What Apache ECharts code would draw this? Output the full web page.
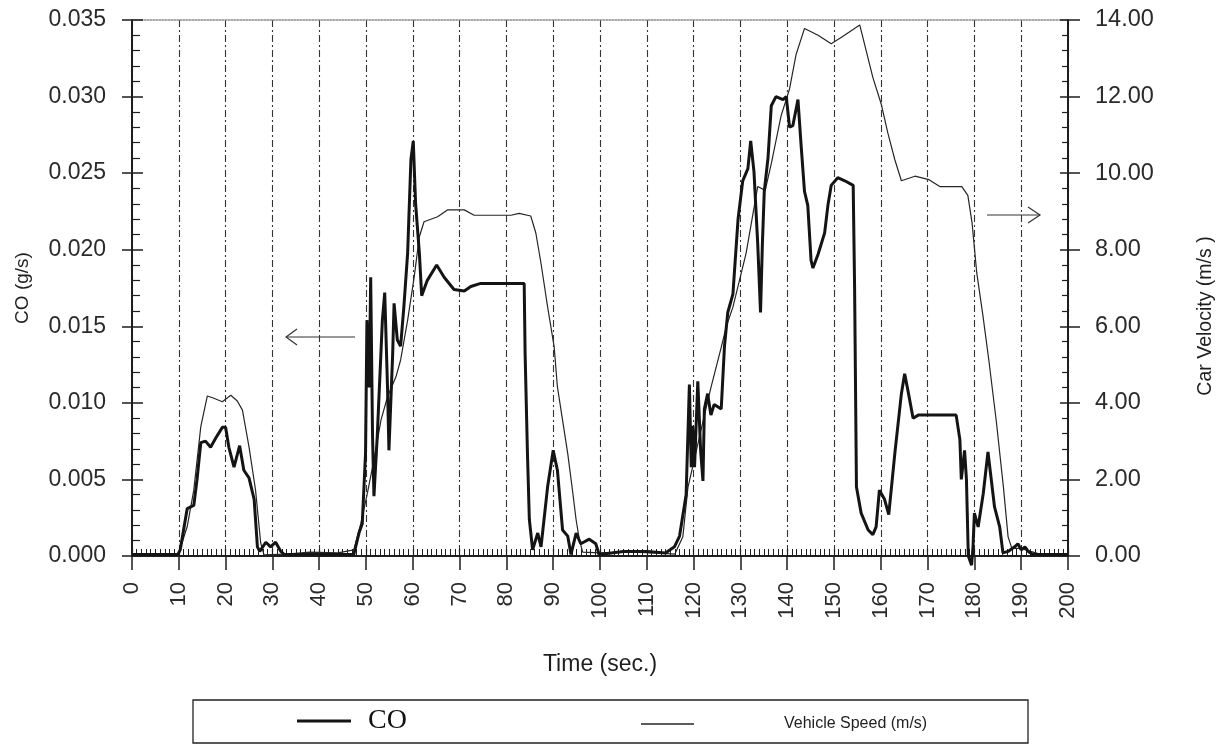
<!DOCTYPE html>
<html>
<head>
  <meta charset="utf-8">
  <title>CO and vehicle speed</title>
  <script src="https://cdn.jsdelivr.net/npm/echarts@6/dist/echarts.min.js"></script>
  <style>
    html, body { margin: 0; padding: 0; background: #fff; }
    #main { width: 1226px; height: 747px; }
  </style>
</head>
<body>
  <div id="main"></div>
  <script>
  // CO emission (g/s)
  var coTime = [0, 9.8, 10.3, 11.8, 13.2, 13.9, 14.7, 15.7, 16.8, 17.9, 19.3, 20, 20.7, 21.8, 23, 23.9, 25, 26.1, 26.8, 27.3,
    28.6, 29.6, 30.7, 31.8, 32.5, 40, 47.4, 48.5, 49.2, 49.9, 50.2, 50.7, 51, 51.4, 51.7, 52.4, 53.5, 54, 54.6, 54.9,
    55.7, 56, 56.7, 57.4, 58.1, 58.9, 59.6, 60.1, 60.6, 61.4, 61.9, 63.1, 65.1, 66.7, 68.8, 71, 72.4, 74.5, 83.8, 84,
    84.5, 84.9, 85.6, 86.7, 87.4, 88.8, 90, 90.9, 92, 93.1, 93.8, 94.9, 95.9, 97.7, 99.1, 99.8, 105, 110, 114, 115.9,
    117, 118.4, 118.8, 119.1, 119.5, 119.8, 120.2, 120.9, 121.5, 122, 122.3, 123, 123.7, 124.4, 125.9, 126.6, 127.3, 128.4, 129.5, 130.5,
    131.6, 132.2, 132.9, 133.7, 134.3, 134.7, 135.1, 135.9, 136.6, 137.6, 139.1, 139.8, 140.5, 141.2, 142.3, 143, 143.7, 144.4, 145.1, 145.5,
    146.6, 148, 148.7, 149.4, 150.8, 152.3, 154.1, 154.4, 154.8, 155.8, 157.3, 158.3, 159, 159.7, 160.8, 161.7, 163, 164.4, 165.1, 165.8,
    166.9, 168, 176.1, 176.9, 177.2, 177.9, 178.3, 178.7, 179.4, 179.7, 180, 180.8, 181.9, 182.9, 183.6, 184.3, 185.4, 186.1, 187.2, 188.6,
    189.3, 190, 190.8, 191.5, 192.5, 193.6, 200];
  var coValue = [0.0001, 0.0001, 0.0004, 0.0031, 0.0033, 0.0050, 0.0074, 0.0075, 0.0071, 0.0077, 0.0084, 0.0084, 0.0071, 0.0058, 0.0072, 0.0056, 0.0051, 0.0037, 0.0006, 0.0003,
    0.0009, 0.0006, 0.0009, 0.0003, 0.0001, 0.0001, 0.0001, 0.0015, 0.0021, 0.0067, 0.0154, 0.0110, 0.0182, 0.0078, 0.0039, 0.0078, 0.0154, 0.0172, 0.0110, 0.0069,
    0.0132, 0.0165, 0.0141, 0.0137, 0.0163, 0.0198, 0.0259, 0.0271, 0.0230, 0.0198, 0.0170, 0.0180, 0.0190, 0.0182, 0.0174, 0.0173, 0.0176, 0.0178, 0.0178, 0.0132,
    0.0067, 0.0024, 0.0004, 0.0015, 0.0006, 0.0045, 0.0069, 0.0056, 0.0017, 0.0013, 0.0001, 0.0015, 0.0008, 0.0011, 0.0008, 0.0001, 0.0003, 0.0003, 0.0002, 0.0006,
    0.0013, 0.0040, 0.0081, 0.0112, 0.0058, 0.0085, 0.0058, 0.0114, 0.0069, 0.0049, 0.0096, 0.0106, 0.0092, 0.0099, 0.0096, 0.0137, 0.0159, 0.0171, 0.0220, 0.0245,
    0.0253, 0.0271, 0.0251, 0.0204, 0.0159, 0.0204, 0.0238, 0.0260, 0.0294, 0.0300, 0.0298, 0.0300, 0.0280, 0.0281, 0.0298, 0.0267, 0.0238, 0.0229, 0.0193, 0.0188,
    0.0197, 0.0211, 0.0229, 0.0242, 0.0247, 0.0245, 0.0242, 0.0176, 0.0045, 0.0028, 0.0017, 0.0014, 0.0019, 0.0043, 0.0037, 0.0027, 0.0067, 0.0106, 0.0119, 0.0108,
    0.0090, 0.0092, 0.0092, 0.0076, 0.0050, 0.0069, 0.0050, 0.0000, -0.0006, 0.0006, 0.0028, 0.0019, 0.0041, 0.0068, 0.0050, 0.0032, 0.0019, 0.0002, 0.0003, 0.0006,
    0.0008, 0.0004, 0.0006, 0.0003, 0.0001, 0.0001, 0.0001];

  // vehicle speed (m/s)
  var speedTime = [0, 9.8, 10.2, 11.8, 13.2, 14.7, 16.1, 17.5, 19.3, 21.1, 22.5, 23.6, 25, 26.4, 27.5, 28.2, 33, 38, 44, 47.4,
    48.9, 50.3, 51.7, 53.2, 54.6, 56.4, 57.4, 58.9, 60.3, 61.4, 62.4, 65.3, 67.4, 71, 73.1, 76.7, 81, 82.7, 85.2, 86.3,
    87.4, 88.8, 90.2, 90.9, 92, 93.1, 94.2, 94.9, 95.6, 96.3, 100, 106, 112, 116, 117.7, 118.8, 119.8, 121.6, 123.7, 125.9,
    127, 128.4, 129.8, 131.2, 133.7, 135.3, 136.6, 138.7, 140.5, 141.9, 143.7, 146.6, 149.4, 151.6, 155.5, 158.3, 160.1, 161.5, 163, 164.4,
    167.3, 170.3, 172.6, 177.3, 178.6, 179.5, 180.5, 181.8, 183.1, 184.7, 186.2, 187.2, 188, 190, 192, 194, 196, 200];
  var speedValue = [0, 0, 0.05, 0.77, 1.72, 3.38, 4.18, 4.12, 4.03, 4.2, 4.05, 3.81, 2.85, 1.72, 0.34, 0.03, 0.05, 0.1, 0.08, 0.16,
    0.85, 1.64, 2.51, 3.55, 4.16, 4.68, 5.12, 6.16, 7.29, 8.34, 8.73, 8.86, 9.04, 9.04, 8.9, 8.9, 8.9, 8.95, 8.88, 8.43,
    7.64, 6.51, 5.47, 4.42, 3.55, 2.68, 1.64, 0.94, 0.42, 0.1, 0.08, 0.1, 0.08, 0.05, 0.5, 1.8, 2.33, 3.3, 4.4, 5.45,
    6.0, 6.5, 7.2, 7.9, 9.65, 9.55, 10.25, 11.5, 12.2, 13.1, 13.78, 13.6, 13.38, 13.55, 13.87, 12.5, 11.8, 11.05, 10.35, 9.8,
    9.92, 9.83, 9.65, 9.65, 9.42, 8.7, 7.4, 6.3, 5.1, 3.5, 1.8, 0.5, 0.2, 0.2, 0.12, 0.05, 0, 0];

  var coData = coTime.map(function (t, i) { return [t, coValue[i]]; });
  var speedData = speedTime.map(function (t, i) { return [t, speedValue[i]]; });

  var ink = '#1e1e1e';
  var font = 'Liberation Sans';

  var chart = echarts.init(document.getElementById('main'));
  chart.setOption({
    animation: false,
    backgroundColor: '#fff',
    textStyle: { fontFamily: font },
    grid: { left: 132, right: 158, top: 20, bottom: 191, outerBoundsMode: 'none' },
    xAxis: [{
      type: 'value', min: 0, max: 200, interval: 10, position: 'bottom',
      name: 'Time (sec.)', nameLocation: 'middle', nameGap: 97,
      nameTextStyle: { fontSize: 23, color: ink, fontFamily: font },
      axisLine: { onZero: false, lineStyle: { color: ink, width: 2 } },
      axisTick: { inside: false, length: 14, lineStyle: { color: ink, width: 1.5 } },
      axisLabel: { rotate: 90, fontSize: 22, color: '#2a2a2a', margin: 26, fontFamily: font },
      splitLine: { show: true, lineStyle: { color: '#333', width: 1.1, type: [7, 3, 2, 3] } }
    }, {
      type: 'value', min: 0, max: 200, interval: 10, position: 'bottom',
      axisLine: { show: false, onZero: false },
      axisTick: { inside: true, length: 7, lineStyle: { color: ink, width: 1.2 } },
      minorTick: { show: true, splitNumber: 10, length: 7, lineStyle: { color: ink, width: 1 } },
      axisLabel: { show: false }, splitLine: { show: false }
    }, {
      type: 'value', min: 0, max: 200, position: 'top',
      axisLine: { onZero: false, lineStyle: { color: '#8a8a8a', width: 1.5, type: 'dotted' } },
      axisTick: { show: false }, axisLabel: { show: false }, splitLine: { show: false }
    }],
    yAxis: [{
      type: 'value', min: 0, max: 0.035, interval: 0.005, position: 'left',
      name: 'CO (g/s)', nameLocation: 'middle', nameRotate: 90, nameGap: 100,
      nameTextStyle: { fontSize: 19, color: ink, fontFamily: font },
      axisLine: { onZero: false, lineStyle: { color: ink, width: 2 } },
      axisTick: { inside: false, length: 10, lineStyle: { color: ink, width: 1.5 } },
      axisLabel: { fontSize: 23, color: '#2a2a2a', margin: 26, fontFamily: font,
        formatter: function (v) { return v.toFixed(3); } },
      splitLine: { show: false }
    }, {
      type: 'value', min: 0, max: 14, interval: 2, position: 'right',
      name: 'Car Velocity (m/s )', nameLocation: 'middle', nameRotate: 90, nameGap: 128,
      nameTextStyle: { fontSize: 19.5, color: ink, fontFamily: font, padding: [0, 56, 0, 0] },
      axisLine: { onZero: false, lineStyle: { color: ink, width: 2 } },
      axisTick: { inside: false, length: 12, lineStyle: { color: ink, width: 1.5 } },
      axisLabel: { fontSize: 23.5, color: '#2a2a2a', margin: 27, fontFamily: font,
        formatter: function (v) { return v.toFixed(2); } },
      splitLine: { show: false }
    }, {
      type: 'value', min: 0, max: 0.035, interval: 0.005, position: 'left',
      axisLine: { show: false, onZero: false },
      axisTick: { inside: true, length: 11, lineStyle: { color: ink, width: 1.5 } },
      minorTick: { show: true, splitNumber: 5, length: 8, lineStyle: { color: ink, width: 1.2 } },
      axisLabel: { show: false }, splitLine: { show: false }
    }, {
      type: 'value', min: 0, max: 14, interval: 2, position: 'right',
      axisLine: { show: false, onZero: false },
      axisTick: { inside: true, length: 8, lineStyle: { color: ink, width: 1.5 } },
      minorTick: { show: true, splitNumber: 5, length: 6, lineStyle: { color: ink, width: 1.2 } },
      axisLabel: { show: false }, splitLine: { show: false }
    }],
    legend: [{
      data: ['CO'], left: 297, top: 707, padding: 0, icon: 'rect', itemWidth: 54, itemHeight: 3,
      itemStyle: { color: '#141414' },
      textStyle: { fontFamily: 'Liberation Serif', fontSize: 28, color: '#111', padding: [0, 0, 0, 12] }
    }, {
      data: ['Vehicle Speed (m/s)'], left: 641, top: 716, padding: 0, icon: 'rect', itemWidth: 53, itemHeight: 1.3,
      itemStyle: { color: '#262626' },
      textStyle: { fontFamily: font, fontSize: 16, color: '#222', padding: [0, 0, 0, 85] }
    }],
    series: [{
      name: 'CO', type: 'line', xAxisIndex: 0, yAxisIndex: 0, data: coData,
      showSymbol: false, symbol: 'none', clip: false, z: 3,
      lineStyle: { color: '#141414', width: 3 }, itemStyle: { color: '#141414' }
    }, {
      name: 'Vehicle Speed (m/s)', type: 'line', xAxisIndex: 0, yAxisIndex: 1, data: speedData,
      showSymbol: false, symbol: 'none', z: 2,
      lineStyle: { color: '#262626', width: 1.2 }, itemStyle: { color: '#262626' }
    }],
    graphic: [
      { type: 'rect', shape: { x: 193, y: 700, width: 835, height: 43 },
        style: { fill: 'none', stroke: '#222', lineWidth: 1.3 }, silent: true },
      { type: 'polyline', shape: { points: [[286, 337], [355, 337]] }, style: { stroke: '#333', lineWidth: 1.2, fill: 'none' } },
      { type: 'polyline', shape: { points: [[297, 329], [286, 337], [297, 345]] }, style: { stroke: '#333', lineWidth: 1.2, fill: 'none' } },
      { type: 'polyline', shape: { points: [[987, 215], [1040, 215]] }, style: { stroke: '#333', lineWidth: 1.2, fill: 'none' } },
      { type: 'polyline', shape: { points: [[1028, 207], [1040, 215], [1028, 223]] }, style: { stroke: '#333', lineWidth: 1.2, fill: 'none' } }
    ]
  });
  </script>
</body>
</html>
